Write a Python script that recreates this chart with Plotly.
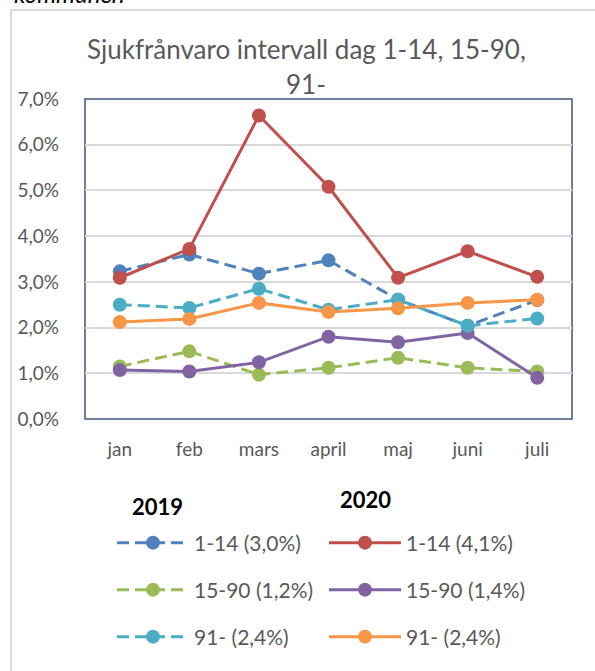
import plotly.graph_objects as go

months = ["jan", "feb", "mars", "april", "maj", "juni", "juli"]
s2019_1_14 = [3.23, 3.60, 3.18, 3.47, 2.61, 2.04, 2.60]
s2020_1_14 = [3.09, 3.72, 6.64, 5.08, 3.09, 3.67, 3.11]
s2019_15_90 = [1.15, 1.48, 0.97, 1.12, 1.34, 1.12, 1.04]
s2020_15_90 = [1.07, 1.04, 1.24, 1.80, 1.68, 1.88, 0.90]
s2019_91 = [2.50, 2.43, 2.85, 2.39, 2.61, 2.04, 2.20]
s2020_91 = [2.12, 2.19, 2.54, 2.34, 2.42, 2.54, 2.61]
ytickvals = [0, 1, 2, 3, 4, 5, 6, 7]
yticktext = ["0,0%", "1,0%", "2,0%", "3,0%", "4,0%", "5,0%", "6,0%", "7,0%"]

FONT = "Lato"
GREY = "#595959"
W, H = 595, 671
OFF = 0  # page body margin removed via post_script
# desired plot area in screen pixels
SX0, SX1, SY0, SY1 = 85, 572, 99, 419
L = SX0 - OFF
T = SY0 - OFF
PW = SX1 - SX0
PH = SY1 - SY0
R = W - L - PW
B = H - T - PH


def px(x):
    return (x - SX0) / PW


def py(y):
    return (SY1 - y) / PH


def cx(x):
    return (x - OFF) / W


def cy(y):
    return 1 - (y - OFF) / H


series = [
    ("1-14 (3,0%)", s2019_1_14, "#4F81BD", "dash", "legend"),
    ("1-14 (4,1%)", s2020_1_14, "#C0504D", "solid", "legend"),
    ("15-90 (1,2%)", s2019_15_90, "#9BBB59", "dash", "legend2"),
    ("15-90 (1,4%)", s2020_15_90, "#8064A2", "solid", "legend2"),
    ("91- (2,4%)", s2019_91, "#4BACC6", "dash", "legend3"),
    ("91- (2,4%)", s2020_91, "#F79646", "solid", "legend3"),
]

fig = go.Figure()
for name, vals, col, dash, lg in series:
    fig.add_trace(go.Scatter(
        x=months, y=vals, name=name, mode="lines+markers",
        line=dict(color=col, width=3, dash=("12px,6px" if dash == "dash" else "solid")),
        marker=dict(color=col, size=14),
        legend=lg,
    ))

ITEMW = 72
leg_common = dict(orientation="h", xanchor="left", yanchor="middle",
                  xref="container", yref="container",
                  font=dict(family=FONT, size=21, color=GREY),
                  entrywidth=207 - ITEMW - 10, entrywidthmode="pixels", itemwidth=ITEMW,
                  bgcolor="rgba(0,0,0,0)")
LEGX = 112
fig.update_layout(
    legend=dict(x=cx(LEGX), y=cy(543), **leg_common),
    legend2=dict(x=cx(LEGX), y=cy(590), **leg_common),
    legend3=dict(x=cx(LEGX), y=cy(637), **leg_common),
)

fig.update_layout(
    width=W, height=H,
    margin=dict(l=L, r=R, t=T, b=B, autoexpand=False),
    paper_bgcolor="white", plot_bgcolor="white",
    showlegend=True,
    xaxis=dict(range=[-0.5, 6.5], showgrid=False, zeroline=False, showline=False,
               tickfont=dict(family=FONT, size=19, color=GREY),
               ticks="", ticklabelstandoff=17),
    yaxis=dict(range=[0, 7], tickvals=ytickvals, ticktext=yticktext,
               showgrid=True, gridcolor="#D9D9D9", gridwidth=2, zeroline=False,
               showline=False, ticks="",
               tickfont=dict(family=FONT, size=19, color=GREY),
               ticklabelstandoff=25),
    shapes=[
        dict(type="rect", xref="paper", yref="paper", x0=0, x1=1, y0=0, y1=1,
             line=dict(color="#3E5480", width=1.5), layer="below"),
        dict(type="rect", xref="paper", yref="paper", x0=px(11), x1=px(620),
             y0=py(700), y1=py(10), line=dict(color="#D9D9D9", width=2), layer="below"),
    ],
    annotations=[
        dict(text="<i>kommunen</i>", x=px(12), y=py(10), xref="paper", yref="paper",
             xanchor="left", yanchor="bottom", showarrow=False,
             font=dict(family=FONT, size=24, color="black"),),
        dict(text="Sjukfrånvaro intervall dag 1-14, 15-90,", x=px(306), y=py(49),
             xref="paper", yref="paper", xanchor="center", yanchor="middle",
             showarrow=False, font=dict(family=FONT, size=26, color=GREY)),
        dict(text="91-", x=px(306), y=py(84),
             xref="paper", yref="paper", xanchor="center", yanchor="middle",
             showarrow=False, font=dict(family=FONT, size=26, color=GREY)),
        dict(text="<b>2019</b>", x=px(157), y=py(506), xref="paper", yref="paper",
             xanchor="center", yanchor="middle", showarrow=False,
             font=dict(family=FONT, size=22, color="black")),
        dict(text="<b>2020</b>", x=px(365), y=py(499), xref="paper", yref="paper",
             xanchor="center", yanchor="middle", showarrow=False,
             font=dict(family=FONT, size=22, color="black")),
    ],
)

fig.write_html("out.html", config={"displayModeBar": False},
               post_script="document.body.style.margin='0';")
